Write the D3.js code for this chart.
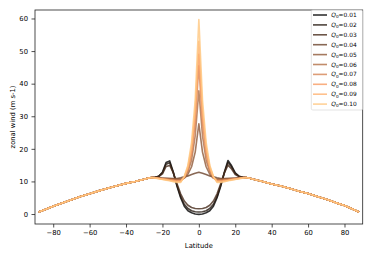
<!DOCTYPE html>
<html>
<head>
<meta charset="utf-8">
<script src="https://cdn.jsdelivr.net/npm/d3@7"></script>
<style>
body { margin: 0; background: #fff; }
text { font-family: "DejaVu Sans", sans-serif; fill: #000; }
.axis text { font-size: 6.8px; fill: #000; }
.axis path, .axis line { stroke: #222; stroke-width: 0.8; }
</style>
</head>
<body>
<svg width="374" height="257"></svg>
<script>
var qValues = [0.01, 0.02, 0.03, 0.04, 0.05, 0.06, 0.07, 0.08, 0.09, 0.10];

var southLat = [-88, -84, -80, -75, -70, -65, -60, -55, -50, -45, -40, -35, -30, -28];
var southWind = [0.6, 1.5, 2.4, 3.4, 4.4, 5.4, 6.2, 7.1, 7.9, 8.7, 9.4, 10.0, 10.7, 11.0];

var northLat = [28, 30, 35, 40, 45, 50, 55, 60, 65, 70, 75, 80, 84, 88];
var northWind = [11.0, 10.7, 10.0, 9.2, 8.6, 7.8, 7.0, 6.3, 5.4, 4.5, 3.5, 2.6, 1.6, 0.6];

var innerLat = [-26, -24, -22, -20, -18, -16, -14, -12, -10, -8, -6, -4, -2, 0,
                2, 4, 6, 8, 10, 12, 14, 16, 18, 20, 22, 24, 26];

// one row per Q0, same order as qValues
var innerWind = [
  [11.2, 11.3, 11.6, 12.8, 15.8, 16.3, 12.8, 8.5, 5.0, 2.4, 1.0, 0.4, 0.0, -0.1, 0.0, 0.4, 1.0, 2.4, 5.0, 8.5, 12.8, 16.4, 14.8, 12.6, 11.6, 11.3, 11.2],
  [11.2, 11.3, 11.6, 12.6, 15.3, 15.7, 12.6, 8.8, 5.4, 3.0, 1.7, 1.0, 0.7, 0.6, 0.7, 1.0, 1.7, 3.0, 5.4, 8.8, 12.6, 15.8, 14.4, 12.4, 11.6, 11.3, 11.2],
  [11.2, 11.3, 11.5, 12.3, 14.6, 14.9, 12.6, 9.3, 6.2, 4.0, 2.7, 2.0, 1.7, 1.6, 1.7, 2.0, 2.7, 4.0, 6.2, 9.3, 12.6, 15.0, 13.8, 12.1, 11.5, 11.3, 11.2],
  [11.2, 11.2, 11.1, 11.0, 11.0, 10.9, 10.9, 10.9, 11.1, 11.4, 11.7, 12.1, 12.5, 12.8, 12.5, 12.1, 11.7, 11.4, 11.1, 10.9, 10.9, 10.9, 11.0, 11.0, 11.1, 11.2, 11.2],
  [11.2, 11.2, 11.1, 11.0, 10.9, 10.9, 10.8, 10.7, 10.7, 11.0, 12.2, 14.5, 19.0, 27.7, 19.0, 14.5, 12.2, 11.0, 10.7, 10.7, 10.8, 10.9, 10.9, 11.0, 11.1, 11.2, 11.2],
  [11.2, 11.1, 11.0, 10.9, 10.8, 10.7, 10.6, 10.5, 10.5, 11.1, 13.0, 16.5, 24.0, 37.8, 24.0, 16.5, 13.0, 11.1, 10.5, 10.5, 10.6, 10.7, 10.8, 10.9, 11.0, 11.1, 11.2],
  [11.2, 11.1, 11.0, 10.8, 10.7, 10.5, 10.4, 10.3, 10.3, 11.2, 13.6, 18.5, 28.0, 45.5, 28.0, 18.5, 13.6, 11.2, 10.3, 10.3, 10.4, 10.5, 10.7, 10.8, 11.0, 11.1, 11.2],
  [11.2, 11.1, 10.9, 10.8, 10.6, 10.4, 10.3, 10.1, 10.1, 11.3, 14.0, 19.5, 30.0, 49.0, 30.0, 19.5, 14.0, 11.3, 10.1, 10.1, 10.3, 10.4, 10.6, 10.8, 10.9, 11.1, 11.2],
  [11.2, 11.1, 10.9, 10.7, 10.5, 10.3, 10.1, 9.9, 9.9, 11.4, 14.5, 20.5, 32.0, 53.0, 32.0, 20.5, 14.5, 11.4, 9.9, 9.9, 10.1, 10.3, 10.5, 10.7, 10.9, 11.1, 11.2],
  [11.2, 11.0, 10.8, 10.6, 10.4, 10.2, 9.9, 9.7, 9.7, 11.5, 15.0, 22.0, 35.0, 59.7, 35.0, 22.0, 15.0, 11.5, 9.7, 9.7, 9.9, 10.2, 10.4, 10.6, 10.8, 11.0, 11.2]
];

var xTicks = [-80, -60, -40, -20, 0, 20, 40, 60, 80];
var yTicks = [0, 10, 20, 30, 40, 50, 60];

var svg = d3.select("svg");
var plotLeft = 35, plotTop = 10, plotRight = 362.7, plotBottom = 224;

var xScale = d3.scaleLinear().domain([-90, 90]).range([plotLeft, plotRight]);
var yScale = d3.scaleLinear().domain([-3.06, 62.6]).range([plotBottom, plotTop]);

// copper colormap, evenly spaced
function copper(t) {
  return d3.rgb(Math.min(255, 1.25 * t * 255), 0.7812 * t * 255, 0.4975 * t * 255);
}

var line = d3.line()
  .x(function(d) { return xScale(d[0]); })
  .y(function(d) { return yScale(d[1]); });

var series = qValues.map(function(q, i) {
  var pts = d3.zip(southLat, southWind)
    .concat(d3.zip(innerLat, innerWind[i]))
    .concat(d3.zip(northLat, northWind));
  return {q: q, pts: pts, color: copper(i / (qValues.length - 1))};
});

svg.append("g")
  .selectAll("path")
  .data(series)
  .enter()
  .append("path")
  .attr("d", function(d) { return line(d.pts); })
  .attr("fill", "none")
  .attr("stroke", function(d) { return d.color; })
  .attr("stroke-opacity", 0.8)
  .attr("stroke-width", 1.6)
  .attr("stroke-linejoin", "round");

// spines
svg.append("rect")
  .attr("x", plotLeft)
  .attr("y", plotTop)
  .attr("width", plotRight - plotLeft)
  .attr("height", plotBottom - plotTop)
  .attr("fill", "none")
  .attr("stroke", "#222")
  .attr("stroke-width", 0.8);

svg.append("g")
  .attr("class", "axis")
  .attr("transform", "translate(0," + plotBottom + ")")
  .call(d3.axisBottom(xScale).tickValues(xTicks).tickSize(3.5).tickPadding(2.5))
  .call(function(g) { g.select(".domain").remove(); });

svg.append("g")
  .attr("class", "axis")
  .attr("transform", "translate(" + plotLeft + ",0)")
  .call(d3.axisLeft(yScale).tickValues(yTicks).tickSize(3.5).tickPadding(3.5))
  .call(function(g) { g.select(".domain").remove(); });

svg.append("text")
  .attr("x", (plotLeft + plotRight) / 2)
  .attr("y", 247.5)
  .attr("text-anchor", "middle")
  .style("font-size", "6.8px")
  .text("Latitude");

svg.append("text")
  .attr("transform", "translate(15," + ((plotTop + plotBottom) / 2) + ") rotate(-90)")
  .attr("text-anchor", "middle")
  .style("font-size", "6.8px")
  .text("zonal wind (m s-1)");

// legend
var legX = 311.3, legY = 10, legW = plotRight - 311.3, legH = 100;
svg.append("rect")
  .attr("x", legX)
  .attr("y", legY)
  .attr("width", legW)
  .attr("height", legH)
  .attr("rx", 1.5)
  .attr("fill", "#fff")
  .attr("fill-opacity", 0.8)
  .attr("stroke", "#ccc")
  .attr("stroke-opacity", 0.8)
  .attr("stroke-width", 0.7);

var leg = svg.append("g")
  .selectAll("g")
  .data(series)
  .enter()
  .append("g")
  .attr("transform", function(d, i) { return "translate(0," + (15 + i * 9.9) + ")"; });

leg.append("line")
  .attr("x1", 313)
  .attr("x2", 327)
  .attr("stroke", function(d) { return d.color; })
  .attr("stroke-opacity", 0.8)
  .attr("stroke-width", 1.6);

var lt = leg.append("text")
  .attr("x", 331.3)
  .attr("y", 2)
  .style("font-size", "5.9px");
lt.append("tspan").style("font-style", "italic").text("Q");
lt.append("tspan").attr("dy", 1.3).style("font-size", "4.2px").text("0");
lt.append("tspan").attr("dy", -1.3).text(function(d) { return "=" + d.q.toFixed(2); });
</script>
</body>
</html>
